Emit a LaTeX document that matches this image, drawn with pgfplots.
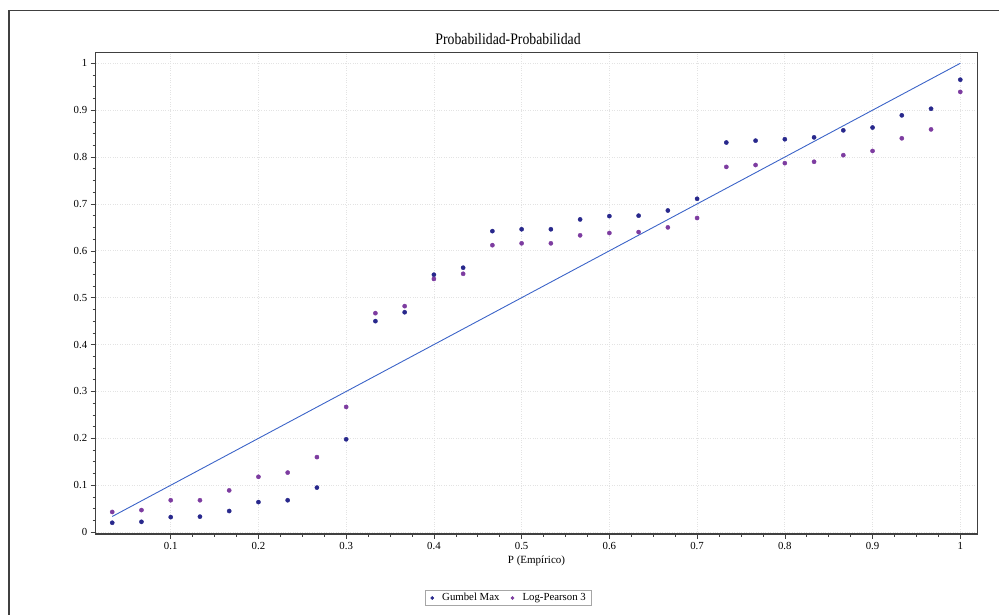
\documentclass[border=0pt]{standalone}
\usepackage{fontspec}
\setmainfont{Liberation Serif}
\usepackage{pgfplots}
\pgfplotsset{compat=1.18}
\definecolor{gumbel}{RGB}{40,40,140}
\definecolor{lp3}{RGB}{125,60,160}
\definecolor{refline}{RGB}{60,100,200}
\definecolor{axgray}{RGB}{64,64,64}
\pgfplotsset{dotlegend/.style={legend image code/.code={\path[draw=none, fill=none] (0pt,-2pt) rectangle (12pt,2pt); \draw[##1, mark size=1.6pt] plot coordinates {(4pt,0pt)};}}}
\begin{document}
\begin{tikzpicture}[x=1pt,y=1pt]
\useasboundingbox (0,0) rectangle (999,615);
\draw[axgray, line width=1.5pt] (9,604.3) rectangle (1020,-20);
\begin{axis}[
  at={(95.7pt,81pt)}, anchor=south west,
  width=881.6pt, height=481.3pt, scale only axis,
  xmin=0.0145, xmax=1.0194, ymin=-0.004, ymax=1.0226,
  xtick={0.1,0.2,0.3,0.4,0.5,0.6,0.7,0.8,0.9,1},
  ytick={0,0.1,0.2,0.3,0.4,0.5,0.6,0.7,0.8,0.9,1},
  minor tick num=3,
  tick align=outside, tick pos=left,
  major tick length=5pt, minor tick length=3pt,
  tick style={axgray, line width=0.6pt},
  axis line style={axgray, line width=1.2pt},
  grid=major,
  major grid style={dotted, gray!22, line width=0.7pt},
  /pgf/number format/assume math mode=true,
  ticklabel style={font=\fontsize{10.8}{12}\selectfont},
  title={\scalebox{0.86}[1]{Probabilidad-Probabilidad}},
  every axis title/.style={at={(axis description cs:0.4677,1)}, anchor=center, yshift=13.3pt, font=\fontsize{16}{18}\selectfont},
  xlabel={P (Empírico)},
  every axis x label/.style={at={(axis description cs:0.5,0)}, anchor=center, yshift=-27pt, font=\fontsize{11}{13}\selectfont},
  legend style={at={(axis description cs:0.4677,0)}, anchor=center, yshift=-64pt,
    draw=gray!70, line width=0.5pt, font=\fontsize{10.8}{12}\selectfont,
    inner xsep=3pt, inner ysep=1pt},
  legend columns=2,
  legend cell align=left,
  /tikz/every even column/.append style={column sep=7pt},
]
\addplot[refline, line width=0.9pt, forget plot] coordinates {(0.03333,0.03333) (1,1)};
\addplot[only marks, mark=*, mark size=2.1pt, color=gumbel, dotlegend]
coordinates {
(0.03333,0.020) (0.06667,0.022) (0.1,0.032) (0.13333,0.033) (0.16667,0.045)
(0.2,0.064) (0.23333,0.068) (0.26667,0.095) (0.3,0.198) (0.33333,0.450)
(0.36667,0.469) (0.4,0.549) (0.43333,0.564) (0.46667,0.642) (0.5,0.646)
(0.53333,0.646) (0.56667,0.667) (0.6,0.674) (0.63333,0.675) (0.66667,0.686)
(0.7,0.711) (0.73333,0.831) (0.76667,0.835) (0.8,0.838) (0.83333,0.842)
(0.86667,0.857) (0.9,0.863) (0.93333,0.889) (0.96667,0.903) (1,0.965)
};
\addlegendentry{Gumbel Max}
\addplot[only marks, mark=*, mark size=2.1pt, color=lp3, dotlegend]
coordinates {
(0.03333,0.043) (0.06667,0.047) (0.1,0.068) (0.13333,0.068) (0.16667,0.089)
(0.2,0.118) (0.23333,0.127) (0.26667,0.160) (0.3,0.267) (0.33333,0.467)
(0.36667,0.482) (0.4,0.540) (0.43333,0.551) (0.46667,0.612) (0.5,0.616)
(0.53333,0.616) (0.56667,0.633) (0.6,0.638) (0.63333,0.640) (0.66667,0.650)
(0.7,0.670) (0.73333,0.779) (0.76667,0.783) (0.8,0.787) (0.83333,0.790)
(0.86667,0.804) (0.9,0.813) (0.93333,0.840) (0.96667,0.859) (1,0.939)
};
\addlegendentry{Log-Pearson 3}
\end{axis}
\end{tikzpicture}
\end{document}
